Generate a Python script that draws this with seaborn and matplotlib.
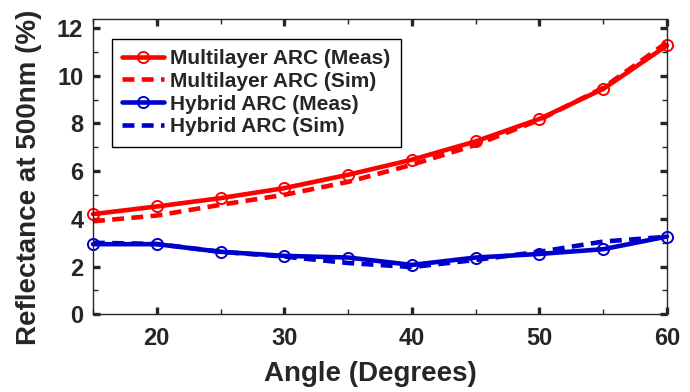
import pandas as pd
import numpy as np
import seaborn as sns
import matplotlib.pyplot as plt
from matplotlib.ticker import MultipleLocator

# data
angle = [15, 20, 25, 30, 35, 40, 45, 50, 55, 60]
multi_meas = [4.2, 4.52, 4.87, 5.29, 5.85, 6.48, 7.25, 8.19, 9.45, 11.27]
multi_sim = [3.9, 4.14, 4.59, 5.01, 5.55, 6.27, 7.1, 8.15, 9.5, 11.4]
hybrid_meas = [2.94, 2.94, 2.62, 2.45, 2.38, 2.07, 2.38, 2.53, 2.73, 3.26]
hybrid_sim = [3.0, 2.95, 2.62, 2.42, 2.15, 1.98, 2.28, 2.62, 3.05, 3.25]

red = '#FF0000'
blue = '#0000CC'

sns.set_style('ticks')
plt.rcParams['font.family'] = ['Liberation Sans', 'DejaVu Sans']
plt.rcParams['font.weight'] = 'bold'

fig = plt.figure(figsize=(6.9, 3.92), dpi=100)
ax = fig.add_axes([0.1348, 0.1982, 0.8319, 0.7546])

series = [
    ('Multilayer ARC (Meas)', multi_meas, red, '-', True),
    ('Multilayer ARC (Sim)', multi_sim, red, '--', False),
    ('Hybrid ARC (Meas)', hybrid_meas, blue, '-', True),
    ('Hybrid ARC (Sim)', hybrid_sim, blue, '--', False),
]

for name, vals, col, ls, mark in series:
    df = pd.DataFrame({'angle': angle, 'R': vals})
    sns.lineplot(data=df, x='angle', y='R', ax=ax, color=col, linewidth=3.3,
                 marker='o' if mark else None, markersize=8, markerfacecolor='none',
                 markeredgecolor=col, markeredgewidth=1.4, label=name)
    line = ax.get_lines()[-1]
    line.set_linestyle(ls)
    if ls == '--':
        line.set_dashes((2.6, 1.6))
    line.set_clip_on(False)

ax.set_xlim(15, 60)
ax.set_ylim(0, 12.4)
ax.xaxis.set_major_locator(MultipleLocator(10))
ax.xaxis.set_minor_locator(MultipleLocator(5))
ax.yaxis.set_major_locator(MultipleLocator(2))
ax.yaxis.set_minor_locator(MultipleLocator(1))
ax.tick_params(which='both', direction='in', top=True, right=True, labelsize=17)
ax.tick_params(which='major', length=5, width=2.4, pad=7)
ax.tick_params(axis='x', which='major', pad=9)
ax.tick_params(which='minor', length=3.5, width=1.0)
for s in ax.spines.values():
    s.set_linewidth(1.0)
for t in ax.get_xticklabels() + ax.get_yticklabels():
    t.set_fontweight('bold')

ax.set_xlabel('Angle (Degrees)', fontsize=20, fontweight='bold')
ax.set_ylabel('Reflectance at 500nm (%)', fontsize=20, fontweight='bold')
ax.xaxis.set_label_coords(0.483, -0.158)
ax.yaxis.set_label_coords(-0.088, 0.463)

leg = ax.legend(loc='upper left', bbox_to_anchor=(0.033, 0.932), fontsize=15,
                frameon=True, fancybox=False, edgecolor='black', framealpha=1,
                handlelength=2.0, handletextpad=0.3, labelspacing=0.18, borderpad=0.5,
                borderaxespad=0)
leg.get_frame().set_linewidth(1.0)
for t in leg.get_texts():
    t.set_fontweight('bold')

fig.savefig('out.png', dpi=100)
